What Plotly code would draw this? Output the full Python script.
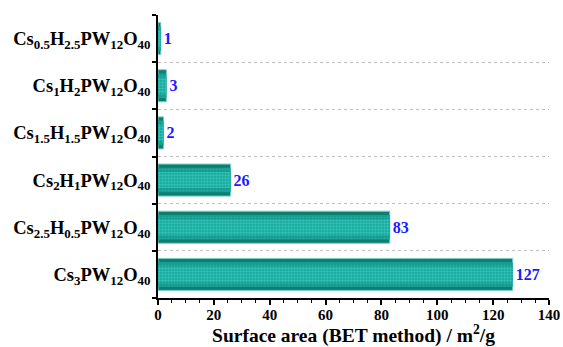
import plotly.graph_objects as go

categories = [
    "Cs<sub>0.5</sub>H<sub>2.5</sub>PW<sub>12</sub>O<sub>40</sub>",
    "Cs<sub>1</sub>H<sub>2</sub>PW<sub>12</sub>O<sub>40</sub>",
    "Cs<sub>1.5</sub>H<sub>1.5</sub>PW<sub>12</sub>O<sub>40</sub>",
    "Cs<sub>2</sub>H<sub>1</sub>PW<sub>12</sub>O<sub>40</sub>",
    "Cs<sub>2.5</sub>H<sub>0.5</sub>PW<sub>12</sub>O<sub>40</sub>",
    "Cs<sub>3</sub>PW<sub>12</sub>O<sub>40</sub>",
]
surface_area = [1, 3, 2, 26, 83, 127]
value_labels = ["1", "3", "2", "26", "83", "127"]

positions = list(range(len(categories)))
boundaries = [p - 0.5 for p in positions] + [positions[-1] + 0.5]

FONT = "Liberation Serif"

fig = go.Figure()
# outer (dark edge) bar
fig.add_trace(go.Bar(
    x=surface_area, y=positions, orientation="h", width=0.68,
    marker=dict(color="#0b7f70", line=dict(color="#7fcfc6", width=1)),
    text=value_labels, textposition="outside",
    textfont=dict(family=FONT, size=16, color="#1a1aff", weight="bold"),
    cliponaxis=False, hoverinfo="skip",
))
# mid band
fig.add_trace(go.Bar(
    x=surface_area, y=positions, orientation="h", width=0.52,
    marker=dict(color="#13968a", line=dict(width=0),
                pattern=dict(shape=".", fgcolor="#2cc0b6", size=3, solidity=0.5)),
    hoverinfo="skip",
))
# bright core
fig.add_trace(go.Bar(
    x=surface_area, y=positions, orientation="h", width=0.34,
    marker=dict(color="#17a496", line=dict(width=0),
                pattern=dict(shape=".", fgcolor="#4ce4e0", size=3, solidity=0.5)),
    hoverinfo="skip",
))

fig.update_layout(
    width=563, height=347,
    barmode="overlay",
    margin=dict(l=158, r=14, t=15, b=49, autoexpand=False),
    paper_bgcolor="white", plot_bgcolor="white",
    showlegend=False,
    font=dict(family=FONT, color="black"),
    xaxis=dict(
        range=[0, 140], dtick=20, tick0=0,
        showline=True, linecolor="black", linewidth=1.5,
        ticks="outside", ticklen=5, tickwidth=1.5, tickcolor="black",
        minor=dict(dtick=5, ticks="outside", ticklen=3, tickwidth=1, tickcolor="black", showgrid=False),
        showgrid=False, zeroline=False,
        tickfont=dict(family=FONT, size=15, weight="bold"),
        ticklabelstandoff=-3,
        title=dict(text="Surface area (BET method) / m<sup>2</sup>/g",
                   font=dict(family=FONT, size=19.5, weight="bold"), standoff=6),
    ),
    yaxis=dict(
        range=[positions[-1] + 0.5, positions[0] - 0.5],
        tickmode="array", tickvals=positions, ticktext=categories,
        ticks="", showgrid=False, zeroline=False,
        showline=True, linecolor="black", linewidth=1.5,
        tickfont=dict(family=FONT, size=18.5, weight="bold"),
        ticklabelstandoff=2,
        minor=dict(tickmode="array", tickvals=boundaries, ticks="outside", ticklen=4,
                   tickwidth=1.5, tickcolor="black",
                   showgrid=True, griddash="dot", gridcolor="#c0c0c0", gridwidth=1),
    ),
)

fig.write_html("out.html")
